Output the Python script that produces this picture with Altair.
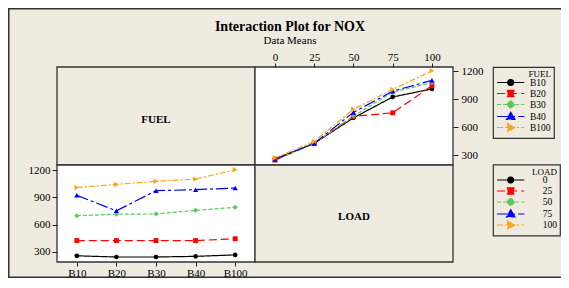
import altair as alt
import pandas as pd

# ---------------- data ----------------
fuels = ["B10", "B20", "B30", "B40", "B100"]
loads = [0, 25, 50, 75, 100]
load_labels = ["0", "25", "50", "75", "100"]
nox_b10 = [258, 425, 698, 922, 1008]
nox_b20 = [245, 425, 714, 752, 1042]
nox_b30 = [245, 425, 718, 973, 1076]
nox_b40 = [252, 425, 757, 984, 1100]
nox_b100 = [268, 445, 790, 1002, 1203]
nox_table = [nox_b10, nox_b20, nox_b30, nox_b40, nox_b100]

y_ticks = [300, 600, 900, 1200]

colors = ["#000000", "#FF0000", "#5DC75D", "#0000FF", "#FFA31A"]
dashes = [[1, 0], [8, 4], [4, 2], [12, 3, 3, 3], [6, 2, 2, 2]]
markers = ["circle", "square", "diamond", "triangle-up", "triangle-right"]
marker_sizes = [22, 30, 40, 48, 48]
legend_paths = [
    "M-3.4,0H3.4M0.75,0A0.75,0.75,0,1,1,-0.75,0A0.75,0.75,0,1,1,0.75,0Z",
    "M-3.4,0H3.4M-0.8,-0.8H0.8V0.8H-0.8Z",
    "M-3.4,0H3.4M0,-1L1,0L0,1L-1,0Z",
    "M-3.4,0H3.4M0,-1.05L1.05,0.75L-1.05,0.75Z",
    "M-3.4,0H3.4M1.05,0L-0.75,1.05L-0.75,-1.05Z",
]

rows = []
for f, vals in zip(fuels, nox_table):
    for l, ll, v in zip(loads, load_labels, vals):
        rows.append({"FUEL": f, "LOAD": l, "LOADc": ll, "NOX": v})
df = pd.DataFrame(rows)

SERIF = "Liberation Serif"
BG = "#EFEBE0"
FRAME = "#333333"
NB = "\u00a0"

W, H = 396, 195
XS = 198   # x split
YS = 98    # y split

one = alt.Data(values=[{}])


def rect(x, x2, y, y2, fill, sw=1.3, fo=1):
    return alt.Chart(one).mark_rect(fill=fill, fillOpacity=fo, stroke=FRAME,
                                    strokeWidth=sw).encode(
        x=alt.value(x), x2=alt.value(x2), y=alt.value(y), y2=alt.value(y2)
    )


def label(t, x, y, size, weight="normal", baseline="alphabetic"):
    return alt.Chart(one).mark_text(
        text=t, font=SERIF, fontSize=size, fontWeight=weight, align="center",
        baseline=baseline, color="black"
    ).encode(x=alt.value(x), y=alt.value(y))


axis_common = dict(grid=False, domain=False, title=None, labelFont=SERIF,
                   labelFontSize=11, labelColor="black", tickColor="#222222",
                   tickWidth=1, zindex=2)

# ---------- top-right panel (x = LOAD, lines = FUEL) ----------
x_tr = alt.Scale(domain=[-12.7, 113.4], range=[XS, W], nice=False, zero=False)
y_tr = alt.Scale(domain=[193, 1243], range=[YS, 0], nice=False, zero=False)
col_f = alt.Scale(domain=fuels, range=colors)
dash_f = alt.Scale(domain=fuels, range=dashes)

tr_line = alt.Chart(df).mark_line(strokeWidth=1.2).encode(
    x=alt.X("LOAD:Q", scale=x_tr,
            axis=alt.Axis(orient="top", values=loads, format="d", tickSize=4,
                          labelPadding=1, **axis_common)),
    y=alt.Y("NOX:Q", scale=y_tr,
            axis=alt.Axis(orient="right", values=y_ticks, format="d", tickSize=5,
                          labelPadding=3, **axis_common)),
    color=alt.Color("FUEL:N", scale=col_f, legend=None),
    strokeDash=alt.StrokeDash("FUEL:N", scale=dash_f, legend=None),
)
tr_pts = alt.Chart(df).mark_point(filled=True, opacity=1).encode(
    x=alt.X("LOAD:Q", scale=x_tr, axis=None),
    y=alt.Y("NOX:Q", scale=y_tr, axis=None),
    color=alt.Color("FUEL:N", scale=col_f, legend=None),
    shape=alt.Shape("FUEL:N", scale=alt.Scale(domain=fuels, range=markers), legend=None),
    size=alt.Size("FUEL:N", scale=alt.Scale(domain=fuels, range=marker_sizes), legend=None),
)
leg_fuel = alt.Legend(
    title="FUEL" + NB * 2, orient="none", legendX=436, legendY=0, direction="vertical",
    padding=3, strokeColor=FRAME, fillColor=BG,
    symbolSize=64, symbolStrokeWidth=1.2, symbolOffset=9.7, labelOffset=14.3,
    titleAnchor="end", titleFont=SERIF, titleFontSize=9, titleFontWeight="normal",
    titleColor="black", titlePadding=-1.5, labelFont=SERIF, labelFontSize=9.5,
    labelColor="black", rowPadding=-2.6, symbolOpacity=1,
    labelExpr="datum.label + '" + NB * 2 + "'",
)
tr_leg = alt.Chart(df).mark_point(filled=True, opacity=0).encode(
    x=alt.X("LOAD:Q", scale=x_tr, axis=None),
    y=alt.Y("NOX:Q", scale=y_tr, axis=None),
    fill=alt.Fill("FUEL:N", scale=col_f, legend=leg_fuel),
    stroke=alt.Stroke("FUEL:N", scale=col_f, legend=leg_fuel),
    shape=alt.Shape("FUEL:N", scale=alt.Scale(domain=fuels, range=legend_paths), legend=leg_fuel),
    strokeDash=alt.StrokeDash("FUEL:N", scale=dash_f, legend=leg_fuel),
)

# ---------- bottom-left panel (x = FUEL, lines = LOAD) ----------
x_bl = alt.Scale(type="point", domain=fuels, range=[0, XS], padding=0.5)
y_bl = alt.Scale(domain=[190, 1255], range=[H, YS], nice=False, zero=False)
col_l = alt.Scale(domain=load_labels, range=colors)
dash_l = alt.Scale(domain=load_labels, range=dashes)

bl_line = alt.Chart(df).mark_line(strokeWidth=1.2).encode(
    x=alt.X("FUEL:N", sort=fuels, scale=x_bl,
            axis=alt.Axis(orient="bottom", labelAngle=0, tickSize=4, labelPadding=1,
                          **axis_common)),
    y=alt.Y("NOX:Q", scale=y_bl,
            axis=alt.Axis(orient="left", values=y_ticks, format="d", tickSize=5,
                          labelPadding=2, **axis_common)),
    color=alt.Color("LOADc:N", scale=col_l, legend=None),
    strokeDash=alt.StrokeDash("LOADc:N", scale=dash_l, legend=None),
)
bl_pts = alt.Chart(df).mark_point(filled=True, opacity=1).encode(
    x=alt.X("FUEL:N", sort=fuels, scale=x_bl, axis=None),
    y=alt.Y("NOX:Q", scale=y_bl, axis=None),
    color=alt.Color("LOADc:N", scale=col_l, legend=None),
    shape=alt.Shape("LOADc:N", scale=alt.Scale(domain=load_labels, range=markers), legend=None),
    size=alt.Size("LOADc:N", scale=alt.Scale(domain=load_labels, range=marker_sizes), legend=None),
)
pad_expr = ("(length(datum.label) == 1 ? '" + NB * 4 + "' : length(datum.label) == 2 ? '"
            + NB * 2 + "' : '') + datum.label")
leg_load = alt.Legend(
    title="LOAD", orient="none", legendX=436, legendY=97.5, direction="vertical",
    padding=3, strokeColor=FRAME, fillColor=BG,
    symbolSize=64, symbolStrokeWidth=1.2, symbolOffset=9.7, labelOffset=27.0,
    titleAnchor="end", titleFont=SERIF, titleFontSize=9, titleFontWeight="normal",
    titleColor="black", titlePadding=-1.5, labelFont=SERIF, labelFontSize=9.5,
    labelColor="black", rowPadding=-2.6, symbolOpacity=1, labelExpr=pad_expr,
)
bl_leg = alt.Chart(df).mark_point(filled=True, opacity=0).encode(
    x=alt.X("FUEL:N", sort=fuels, scale=x_bl, axis=None),
    y=alt.Y("NOX:Q", scale=y_bl, axis=None),
    fill=alt.Fill("LOADc:N", scale=col_l, legend=leg_load),
    stroke=alt.Stroke("LOADc:N", scale=col_l, legend=leg_load),
    shape=alt.Shape("LOADc:N", scale=alt.Scale(domain=load_labels, range=legend_paths), legend=leg_load),
    strokeDash=alt.StrokeDash("LOADc:N", scale=dash_l, legend=leg_load),
)

# ---------- decorations ----------
decor = [
    rect(-48.25, 560, -58.25, 210.25, BG, 1.5, 0),
    rect(0, XS, 0, YS, BG),
    rect(XS, W, 0, YS, "white"),
    rect(0, XS, YS, H, "white"),
    rect(XS, W, YS, H, BG),
]
texts = [
    label("Interaction Plot for NOX", 233, -36.5, 14, "bold"),
    label("Data Means", 233, -23, 11),
    label("FUEL", XS / 2, YS / 2 + 3.5, 11, "bold", "middle"),
    label("LOAD", XS + XS / 2, YS + (H - YS) / 2 + 3.5, 11, "bold", "middle"),
]

chart = alt.layer(
    *decor, tr_line, tr_pts, tr_leg, bl_line, bl_pts, bl_leg, *texts
).resolve_scale(
    x="independent", y="independent", color="independent", fill="independent",
    stroke="independent", shape="independent", strokeDash="independent",
    size="independent",
).resolve_axis(
    x="independent", y="independent"
).resolve_legend(
    color="independent", fill="independent", stroke="independent",
    shape="independent", strokeDash="independent", size="independent",
).properties(
    width=W, height=H,
    autosize=alt.AutoSizeParams(type="none"),
    padding={"left": 49, "top": 59, "right": 108, "bottom": 16},
    background=BG,
).configure_view(strokeWidth=0).configure_legend(strokeWidth=1.2)

chart.save("out.html", embed_options={"renderer": "svg", "actions": False})
